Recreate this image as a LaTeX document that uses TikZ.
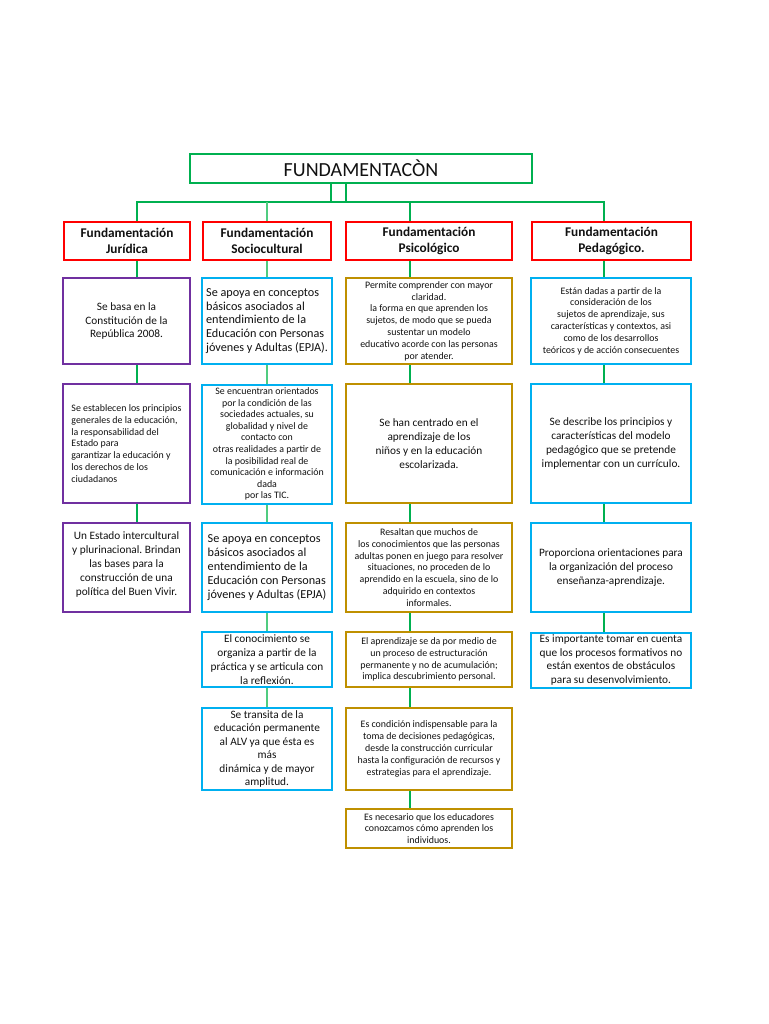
\documentclass[tikz,border=0pt]{standalone}
\usepackage{fontspec}
\setmainfont{Carlito}
\frenchspacing
\definecolor{grn}{HTML}{00B050}
\definecolor{lgrn}{HTML}{50CC80}
\definecolor{hred}{HTML}{FF0000}
\definecolor{purp}{HTML}{7030A0}
\definecolor{cyn}{HTML}{00B0F0}
\definecolor{gold}{HTML}{BF9000}
\definecolor{txt}{HTML}{111111}
\tikzset{
  conn/.style={draw=grn, line width=2pt},
  connlight/.style={draw=lgrn, line width=2pt},
  box/.style={draw, line width=2pt, inner sep=0pt, text=txt},
  bigtxt/.style={font=\frenchspacing\fontsize{11.3}{13.8}\selectfont},
  widetxt/.style={font=\frenchspacing\fontsize{12.2}{13.8}\selectfont},
  smalltxt/.style={font=\frenchspacing\fontsize{9.9}{11.8}\selectfont},
  tighttxt/.style={font=\frenchspacing\fontsize{9.9}{11.6}\selectfont},
  colA/.style={box, draw=purp, minimum width=127pt},
  colB/.style={box, draw=cyn, minimum width=130pt},
  colC/.style={box, draw=gold, minimum width=166pt},
  colD/.style={box, draw=cyn, minimum width=160pt},
  rowone/.style={minimum height=86pt},
  rowtwo/.style={minimum height=119pt},
  rowthree/.style={minimum height=89pt},
  rowfour/.style={minimum height=55pt},
  rowfive/.style={minimum height=82pt},
  rowsix/.style={minimum height=39pt},
  hdr/.style={draw=hred, line width=1.6pt, align=center, inner sep=0pt, text=txt,
    minimum height=38pt, font=\bfseries\fontsize{13.3}{16}\selectfont},
}
\begin{document}
\begin{tikzpicture}[x={(1pt,0)}, y={(0,-1pt)}]
\useasboundingbox (0,0) rectangle (768,1024);
\fill[white] (0,0) rectangle (768,1024);

% title
\node[draw=grn, line width=2pt, minimum width=342pt, minimum height=29pt, inner sep=0pt,
  text=txt, font=\fontsize{20}{24}\selectfont] (title) at (361,168.5) {FUNDAMENTACÒN};

% headers
\node[hdr, minimum width=126pt] (h1) at (127,241) {Fundamentación\\Jurídica};
\node[hdr, minimum width=128pt] (h2) at (267,241) {Fundamentación\\Sociocultural};
\node[hdr, minimum width=166pt] (h3) at (429,241) {Fundamentación\\Psicológico};
\node[hdr, minimum width=159pt] (h4) at (611.5,241) {Fundamentación\\Pedagógico.};

% column 1
\node[colA, rowone, bigtxt, align=center] (a1) at (126.5,321) {Se basa en la\\Constitución de la\\República 2008.};
\node[colA, rowtwo, smalltxt, align=left] (a2) at (126.5,443.5) {Se establecen los principios\\generales de la educación,\\la responsabilidad del\\Estado para\\garantizar la educación y\\los derechos de los\\ciudadanos};
\node[colA, rowthree, bigtxt, align=center] (a3) at (126.5,567.5) {Un Estado intercultural\\y plurinacional. Brindan\\las bases para la\\construcción de una\\política del Buen Vivir.\\[-6pt]\mbox{}};

% column 2
\node[colB, rowone, widetxt, align=left] (b1) at (267,321) {Se apoya en conceptos\\básicos asociados al\\entendimiento de la\\Educación con Personas\\jóvenes y Adultas (EPJA).};
\node[colB, rowtwo, tighttxt, align=center] (b2) at (267,444) {Se encuentran orientados\\por la condición de las\\sociedades actuales, su\\globalidad y nivel de\\contacto con\\otras realidades a partir de\\la posibilidad real de\\comunicación e información\\dada\\por las TIC.};
\node[colB, rowthree, widetxt, align=left] (b3) at (267,567.5) {Se apoya en conceptos\\básicos asociados al\\entendimiento de la\\Educación con Personas\\jóvenes y Adultas (EPJA)};
\node[colB, rowfour, bigtxt, align=center] (b4) at (267,659.5) {El conocimiento se\\organiza a partir de la\\práctica y se articula con\\la reflexión.};
\node[colB, rowfive, font=\frenchspacing\fontsize{11.3}{13.5}\selectfont, align=center] (b5) at (267,749) {Se transita de la\\educación permanente\\al ALV ya que ésta es\\más\\dinámica y de mayor\\amplitud.};

% column 3
\node[colC, rowone, smalltxt, align=center] (c1) at (429,321) {Permite comprender con mayor\\claridad.\\la forma en que aprenden los\\sujetos, de modo que se pueda\\sustentar un modelo\\educativo acorde con las personas\\por atender.};
\node[colC, rowtwo, bigtxt, align=center] (c2) at (429,443.5) {Se han centrado en el\\aprendizaje de los\\niños y en la educación\\escolarizada.};
\node[colC, rowthree, smalltxt, align=center] (c3) at (429,567.5) {Resaltan que muchos de\\los conocimientos que las personas\\adultas ponen en juego para resolver\\situaciones, no proceden de lo\\aprendido en la escuela, sino de lo\\adquirido en contextos\\informales.};
\node[colC, rowfour, smalltxt, align=center] (c4) at (429,659.5) {El aprendizaje se da por medio de\\un proceso de estructuración\\permanente y no de acumulación;\\implica descubrimiento personal.};
\node[colC, rowfive, smalltxt, align=center] (c5) at (429,749) {Es condición indispensable para la\\toma de decisiones pedagógicas,\\desde la construcción curricular\\hasta la configuración de recursos y\\estrategias para el aprendizaje.};
\node[colC, rowsix, smalltxt, align=center] (c6) at (429,828.5) {Es necesario que los educadores\\conozcamos cómo aprenden los\\individuos.};

% column 4
\node[colD, rowone, smalltxt, align=center] (d1) at (611,321) {Están dadas a partir de la\\consideración de los\\sujetos de aprendizaje, sus\\características y contextos, asi\\como de los desarrollos\\teóricos y de acción consecuentes};
\node[colD, rowtwo, bigtxt, align=center] (d2) at (611,443.5) {Se describe los principios y\\características del modelo\\pedagógico que se pretende\\implementar con un currículo.};
\node[colD, rowthree, bigtxt, align=center] (d3) at (611,567.5) {Proporciona orientaciones para\\la organización del proceso\\enseñanza-aprendizaje.};
\node[colD, rowfour, bigtxt, align=center] (d4) at (611,660) {Es importante tomar en cuenta\\que los procesos formativos no\\están exentos de obstáculos\\para su desenvolvimiento.};

% connector coordinates
\coordinate (k1) at (137,0);
\coordinate (k2) at (267,0);
\coordinate (k3) at (410,0);
\coordinate (k4) at (604,0);
\coordinate (t1) at (331,202);
\coordinate (t2) at (346,202);
\coordinate (barL) at (137,202);
\coordinate (barR) at (604,202);

% top tree
\draw[conn] (title.south -| t1) -- (t1);
\draw[conn] (title.south -| t2) -- (t2);
\draw[conn] (h1.north -| barL) -- (barL) -- (barR) -- (h4.north -| barR);
\draw[connlight] (barL -| k2) -- (h2.north -| k2);
\draw[conn] (barL -| k3) -- (h3.north -| k3);

% column connectors
\draw[conn] (h1.south -| k1) -- (a1.north -| k1);
\draw[conn] (a1.south -| k1) -- (a2.north -| k1);
\draw[conn] (a2.south -| k1) -- (a3.north -| k1);

\draw[connlight] (h2.south -| k2) -- (b1.north -| k2);
\draw[connlight] (b1.south -| k2) -- (b2.north -| k2);
\draw[connlight] (b2.south -| k2) -- (b3.north -| k2);
\draw[connlight] (b3.south -| k2) -- (b4.north -| k2);
\draw[connlight] (b4.south -| k2) -- (b5.north -| k2);

\draw[conn] (h3.south -| k3) -- (c1.north -| k3);
\draw[conn] (c1.south -| k3) -- (c2.north -| k3);
\draw[conn] (c2.south -| k3) -- (c3.north -| k3);
\draw[conn] (c3.south -| k3) -- (c4.north -| k3);
\draw[conn] (c4.south -| k3) -- (c5.north -| k3);
\draw[conn] (c5.south -| k3) -- (c6.north -| k3);

\draw[conn] (h4.south -| k4) -- (d1.north -| k4);
\draw[conn] (d1.south -| k4) -- (d2.north -| k4);
\draw[conn] (d2.south -| k4) -- (d3.north -| k4);
\draw[conn] (d3.south -| k4) -- (d4.north -| k4);
\end{tikzpicture}
\end{document}
